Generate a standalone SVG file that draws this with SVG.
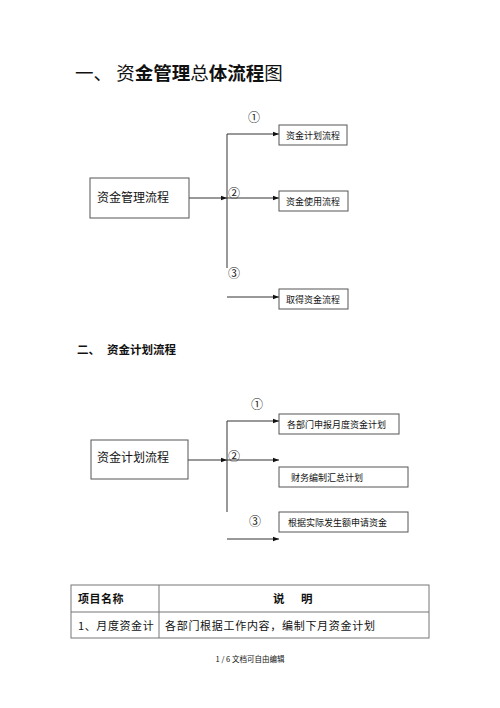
<svg xmlns="http://www.w3.org/2000/svg" width="500" height="708" viewBox="0 0 500 708">
<style>
  .cn { font-family: "Noto Sans CJK SC", "Liberation Serif", serif; fill: #111; }
  .box { fill: #fff; stroke: #555; stroke-width: 1; }
  .ln { stroke: #333; stroke-width: 1; fill: none; }
  .arr { stroke: #333; stroke-width: 1; fill: none; marker-end: url(#ah); }
  .b { font-weight: bold; }
  .num { font-family: "Noto Sans CJK SC", "DejaVu Sans", sans-serif; font-size: 12px; fill: #222; text-anchor: middle; dominant-baseline: central; }
  .bt { font-size: 9px; }
  .mt { font-size: 12px; }
  .tb { fill: none; stroke: #777; stroke-width: 1; }
</style>
<defs>
  <marker id="ah" markerWidth="6" markerHeight="6" refX="6" refY="3" orient="auto" markerUnits="userSpaceOnUse">
    <path d="M0,0.8 L6,3 L0,5.2 Z" fill="#111"/>
  </marker>
</defs>
<rect width="500" height="708" fill="#fff"/>

<!-- Title 1 -->
<text class="cn" x="75" y="80" font-size="18.5"><tspan>一、 </tspan><tspan>资</tspan><tspan class="b">金管理</tspan><tspan>总</tspan><tspan class="b">体流程</tspan><tspan>图</tspan></text>

<!-- Diagram 1 connectors -->
<g id="connectors1">
  <line class="arr" x1="189" y1="198" x2="227" y2="198"/>
  <line class="ln" x1="227" y1="134" x2="227" y2="268"/>
  <line class="arr" x1="227" y1="134" x2="279" y2="134"/>
  <line class="arr" x1="227" y1="198" x2="279" y2="198"/>
  <line class="arr" x1="227" y1="297" x2="279" y2="297"/>
</g>
<g id="d1-main">
  <rect class="box" x="90" y="178" width="99" height="40"/>
  <text class="cn mt" x="97" y="202">资金管理流程</text>
</g>
<g id="d1-plan">
  <rect class="box" x="279" y="125" width="68" height="20"/>
  <text class="cn bt" x="286" y="138.5">资金计划流程</text>
</g>
<g id="d1-use">
  <rect class="box" x="279" y="191" width="69" height="20"/>
  <text class="cn bt" x="286" y="204.5">资金使用流程</text>
</g>
<g id="d1-get">
  <rect class="box" x="279" y="289" width="69" height="20"/>
  <text class="cn bt" x="286" y="302.5">取得资金流程</text>
</g>
<g id="d1-labels">
  <text class="num" x="254" y="116">①</text>
  <text class="num" x="234" y="192">②</text>
  <text class="num" x="234" y="272">③</text>
</g>

<!-- Title 2 -->
<text class="cn b" x="77" y="354" font-size="11.5"><tspan>二、</tspan><tspan x="107">资金计划流程</tspan></text>

<!-- Diagram 2 connectors -->
<g id="connectors2">
  <line class="arr" x1="188" y1="460" x2="227" y2="460"/>
  <line class="ln" x1="227" y1="421" x2="227" y2="512"/>
  <line class="arr" x1="227" y1="421" x2="279" y2="421"/>
  <line class="arr" x1="227" y1="460" x2="279" y2="460"/>
  <line class="arr" x1="227" y1="539" x2="279" y2="539"/>
</g>
<g id="d2-main">
  <rect class="box" x="91" y="440" width="97" height="39"/>
  <text class="cn mt" x="97" y="462">资金计划流程</text>
</g>
<g id="d2-report">
  <rect class="box" x="279" y="414" width="120" height="20"/>
  <text class="cn bt" x="287" y="427.5">各部门申报月度资金计划</text>
</g>
<g id="d2-summary">
  <rect class="box" x="279" y="467" width="129" height="20"/>
  <text class="cn bt" x="291" y="480.5">财务编制汇总计划</text>
</g>
<g id="d2-apply">
  <rect class="box" x="279" y="512" width="129" height="20"/>
  <text class="cn bt" x="288" y="525.5">根据实际发生额申请资金</text>
</g>
<g id="d2-labels">
  <text class="num" x="257" y="403">①</text>
  <text class="num" x="234" y="455">②</text>
  <text class="num" x="255" y="520">③</text>
</g>

<!-- Table -->
<g id="table">
  <rect class="tb" x="71" y="585" width="358" height="53"/>
  <line class="tb" x1="71" y1="612" x2="429" y2="612"/>
  <line class="tb" x1="159" y1="585" x2="159" y2="638"/>
  <text class="cn b" x="78" y="603" font-size="11" letter-spacing="0.5">项目名称</text>
  <text class="cn b" x="273" y="603" font-size="11.5">说</text>
  <text class="cn b" x="301" y="603" font-size="11.5">明</text>
  <text class="cn" x="78" y="630" font-size="11" letter-spacing="0.6">1、月度资金计</text>
  <text class="cn" x="165" y="630" font-size="11" letter-spacing="0.7">各部门根据工作内容，编制下月资金计划</text>
</g>

<text class="cn" x="250" y="662" font-size="7.5" text-anchor="middle">1 / 6 文档可自由编辑</text>
</svg>
